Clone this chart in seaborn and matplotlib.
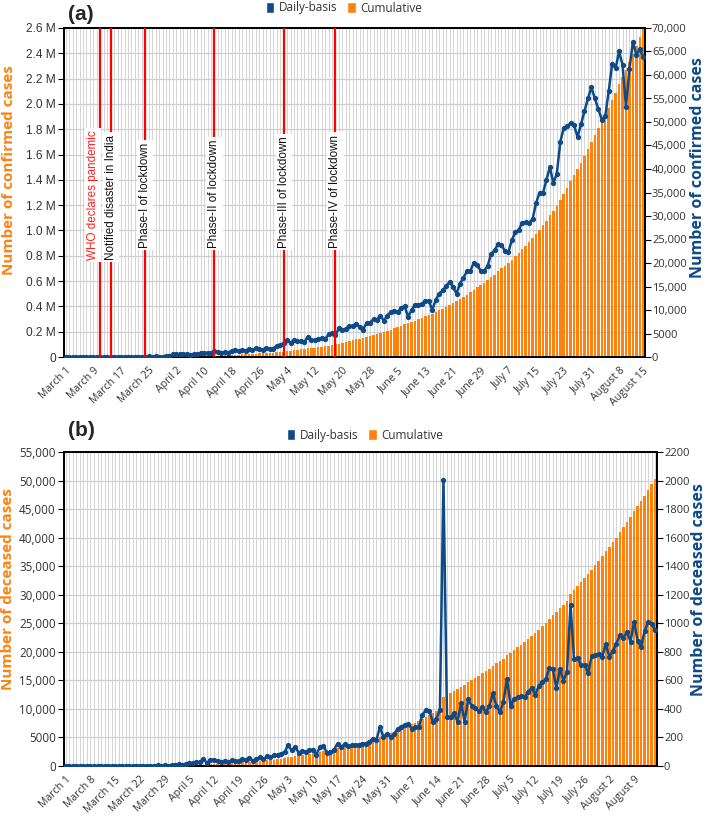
import numpy as np
import pandas as pd
import matplotlib
matplotlib.use("Agg")
import matplotlib.pyplot as plt
import seaborn as sns
from matplotlib.patches import Patch
from matplotlib.ticker import FuncFormatter

# ---------------- data ----------------
dates = pd.date_range("2020-03-01", "2020-08-15", freq="D")

daily_confirmed = [
    0, 2, 1, 22, 2, 1, 3, 5, 9, 15, 8, 10, 10, 12, 13, 12, 22, 14, 38, 50, 86, 66, 103, 37, 121, 70, 160, 100, 106, 227, 146,
    601, 545, 624, 579, 609, 484, 573, 565, 813, 871, 854, 758, 1243, 1031, 886, 1061, 922, 1371, 1580, 1239, 1537, 1292, 1667, 1408, 1835, 1607, 1568, 1902, 1705, 1801,
    2396, 2564, 2952, 3656, 2971, 3602, 3344, 3339, 3175, 4311, 3592, 3562, 3726, 3991, 3808, 4794, 5050, 4628, 6154, 5720, 6023, 6536, 6667, 7111, 6414, 5843, 7293, 7300, 8105, 7964, 8789,
    7720, 8820, 9630, 9890, 9470, 10440, 10860, 8540, 9980, 11160, 11140, 11310, 12000, 11900, 10000, 12200, 13500, 14200, 15100, 16000, 14900, 13500, 15600, 16900, 18200, 18300, 20100, 19600, 18300, 18300,
    19400, 21900, 22700, 24000, 23900, 22500, 22300, 24900, 26500, 27100, 28600, 28700, 28500, 29400, 32700, 35000, 34900, 37700, 40400, 37000, 39000, 45700, 48800, 49100, 49800, 49300, 46800, 49500, 52300, 55000, 57400,
    55000, 52800, 50500, 51200, 56500, 62400, 61400, 65000, 62200, 53200, 61200, 67100, 64300, 65500, 63800,
]

cumulative_confirmed = [
    3, 5, 6, 28, 30, 31, 34, 39, 48, 63, 71, 81, 91, 103, 116, 128, 150, 164, 202, 252, 338, 404, 507, 544, 665, 735, 895, 995, 1101, 1328, 1474,
    2075, 2620, 3244, 3823, 4432, 4916, 5489, 6054, 6867, 7738, 8592, 9350, 10593, 11624, 12510, 13571, 14493, 15864, 17444, 18683, 20220, 21512, 23179, 24587, 26422, 28029, 29597, 31499, 33204, 35005,
    37401, 39965, 42917, 46573, 49544, 53146, 56490, 59829, 63004, 67315, 70907, 74469, 78195, 82186, 85994, 90788, 95838, 100466, 106620, 112340, 118363, 124899, 131566, 138677, 145091, 150934, 158227, 165527, 173632, 181596, 190385,
    198105, 206925, 216555, 226445, 235915, 246355, 257215, 265755, 275735, 286895, 298035, 309345, 321345, 333245, 343245, 355445, 368945, 383145, 398245, 414245, 429145, 442645, 458245, 475145, 493345, 511645, 531745, 551345, 569645, 587945,
    607345, 629245, 651945, 675945, 699845, 722345, 744645, 769545, 796045, 823145, 851745, 880445, 908945, 938345, 971045, 1006045, 1040945, 1078645, 1119045, 1156045, 1195045, 1240745, 1289545, 1338645, 1388445, 1437745, 1484545, 1534045, 1586345, 1641345, 1698745,
    1753745, 1806545, 1857045, 1908245, 1964745, 2027145, 2088545, 2153545, 2215745, 2268945, 2330145, 2397245, 2461545, 2527045, 2590845,
]

daily_deceased = [
    0, 0, 0, 0, 0, 0, 0, 0, 0, 0, 0, 1, 0, 1, 0, 0, 1, 0, 1, 0, 1, 3, 2, 2, 1, 3, 5, 3, 4, 3, 4,
    5, 12, 10, 15, 23, 20, 30, 26, 51, 20, 44, 44, 35, 26, 38, 28, 40, 36, 36, 46, 45, 58, 36, 47, 63, 46, 68, 60, 75, 79,
    87, 98, 145, 110, 133, 93, 105, 98, 110, 115, 80, 133, 140, 93, 98, 115, 157, 133, 152, 138, 145, 145, 147, 157, 157, 169, 192, 180, 274, 204, 227,
    204, 222, 260, 273, 290, 295, 262, 270, 272, 357, 392, 388, 310, 328, 395, 2003, 342, 340, 370, 308, 442, 310, 468, 420, 405, 382, 412, 380, 417, 510,
    420, 379, 446, 613, 422, 470, 484, 490, 480, 520, 548, 500, 560, 586, 610, 686, 678, 543, 682, 595, 660, 1130, 748, 760, 706, 707, 652, 772, 777, 783, 765,
    856, 762, 808, 858, 915, 900, 937, 872, 1012, 877, 835, 948, 1008, 998, 950,
]

cumulative_deceased = [
    0, 0, 0, 0, 0, 0, 0, 0, 0, 0, 0, 1, 1, 2, 2, 2, 3, 3, 4, 4, 5, 8, 10, 12, 13, 16, 21, 24, 28, 31, 35,
    40, 52, 62, 77, 100, 120, 150, 176, 227, 247, 291, 335, 370, 396, 434, 462, 502, 538, 574, 620, 665, 723, 759, 806, 869, 915, 983, 1043, 1118, 1197,
    1284, 1382, 1527, 1637, 1770, 1863, 1968, 2066, 2176, 2291, 2371, 2504, 2644, 2737, 2835, 2950, 3107, 3240, 3392, 3530, 3675, 3820, 3967, 4124, 4281, 4450, 4642, 4822, 5096, 5300, 5527,
    5731, 5953, 6213, 6486, 6776, 7071, 7333, 7603, 7875, 8232, 8624, 9012, 9322, 9650, 10045, 12048, 12390, 12730, 13100, 13408, 13850, 14160, 14628, 15048, 15453, 15835, 16247, 16627, 17044, 17554,
    17974, 18353, 18799, 19412, 19834, 20304, 20788, 21278, 21758, 22278, 22826, 23326, 23886, 24472, 25082, 25768, 26446, 26989, 27671, 28266, 28926, 30056, 30804, 31564, 32270, 32977, 33629, 34401, 35178, 35961, 36726,
    37582, 38344, 39152, 40010, 40925, 41825, 42762, 43634, 44646, 45523, 46358, 47306, 48314, 49312, 50262,
]

event_dates = ["2020-03-11", "2020-03-14", "2020-03-24", "2020-04-13", "2020-05-03", "2020-05-18"]
event_labels = ["WHO declares pandemic", "Notified disaster in India", "Phase-I of lockdown",
                "Phase-II of lockdown", "Phase-III of lockdown", "Phase-IV of lockdown"]
event_text_colors = ["#ff2020", "#111111", "#111111", "#111111", "#111111", "#111111"]
event_label_y = [770000, 770000, 865000, 865000, 865000, 865000]
event_label_dx = [-5, 0, 0, 0, 0, 0]

legend_labels = ["Daily-basis", "Cumulative"]

# ---------------- style ----------------
sns.set_style("white")
plt.rcParams["font.family"] = ["Open Sans", "DejaVu Sans"]

ORANGE = "#ff820f"
BLUE = "#0e4a87"
TXT = "#333333"

fig = plt.figure(figsize=(7.08, 8.17), dpi=100)
W, H = 708.0, 817.0
axA = fig.add_axes([64 / W, 1 - 357 / H, (645 - 64) / W, (357 - 28) / H])
axB = fig.add_axes([64 / W, 1 - 766 / H, (657 - 64) / W, (766 - 452) / H])


def fmt_int(v, pos=None):
    v = int(round(v))
    return f"{v:,}" if v >= 10000 else f"{v}"


def fmt_mil(v, pos=None):
    return "0" if v == 0 else f"{v / 1e6:.1f} M"


def draw_panel(ax, cum, daily, cum_max, cum_step, d_max, d_step, label_idx,
               left_fmt, left_font, left_size):
    n = len(dates)
    df = pd.DataFrame({"idx": np.arange(n), "cum": cum, "daily": daily})
    sns.barplot(data=df, x="idx", y="cum", color=ORANGE, saturation=1, width=0.72,
                errorbar=None, linewidth=0, ax=ax, zorder=2)
    ax.set_xlim(-0.5, n - 0.5)
    ax.set_ylim(0, cum_max)
    ax.set_yticks(np.arange(0, cum_max + 1, cum_step))
    ax.yaxis.set_major_formatter(FuncFormatter(left_fmt))
    ax.set_axisbelow(True)
    ax.set_xticks(np.arange(n))
    labels = [""] * n
    for i in label_idx:
        d = dates[i]
        labels[i] = f"{d:%B} {d.day}"
    ax.set_xticklabels(labels, rotation=45, ha="right", rotation_mode="anchor",
                       fontsize=7.6, color=TXT)
    ax.grid(axis="x", color="#d6d6d6", lw=0.75)
    ax.grid(axis="y", color="#cfcfcf", lw=0.9)
    ax.tick_params(axis="x", length=4, width=0.8, color="black", pad=2)
    ax.tick_params(axis="y", length=4, width=0.8, color="black", pad=2,
                   labelsize=left_size, labelcolor=TXT)
    for t in ax.get_yticklabels():
        t.set_family(left_font)
    ax.set_xlabel("")
    ax.set_ylabel("")

    ax2 = ax.twinx()
    sns.lineplot(data=df, x="idx", y="daily", ax=ax2, color=BLUE, lw=1.8,
                 marker="o", markersize=3.8, markeredgewidth=0, zorder=3)
    ax2.set_xlim(-0.5, n - 0.5)
    ax2.set_ylim(0, d_max)
    ax2.set_yticks(np.arange(0, d_max + 1, d_step))
    ax2.yaxis.set_major_formatter(FuncFormatter(fmt_int))
    ax2.tick_params(axis="y", length=4, width=0.8, color="black", pad=1,
                    labelsize=8, labelcolor=TXT)
    ax2.set_ylabel("")
    ax2.set_xlabel("")
    for a in (ax, ax2):
        for s in a.spines.values():
            s.set_color("black")
            s.set_linewidth(1.3)
            s.set_visible(True)
    return ax2


nA = len(dates)
labA = list(range(0, nA, 8)) + [nA - 1]
axA2 = draw_panel(axA, cumulative_confirmed, daily_confirmed, 2.6e6, 0.2e6, 70000, 5000,
                  labA, fmt_mil, "Liberation Sans", 8.6)
labB = list(range(0, nA, 7))
axB2 = draw_panel(axB, cumulative_deceased, daily_deceased, 55000, 5000, 2200, 200,
                  labB, fmt_int, "Open Sans", 8.4)

# events on panel (a)
date_index = {d.strftime("%Y-%m-%d"): i for i, d in enumerate(dates)}
for ed, lab, col, yv, dx in zip(event_dates, event_labels, event_text_colors,
                                 event_label_y, event_label_dx):
    xi = date_index[ed]
    axA2.axvline(xi, color="#ff0000", lw=1.6, zorder=4)
    axA2.annotate(lab, xy=(xi, yv), xycoords=axA.transData, xytext=(dx, 0),
                  textcoords="offset points", rotation=90, ha="center", va="bottom",
                  fontsize=8.4, family="Liberation Sans", color=col, zorder=5,
                  bbox=dict(boxstyle="square,pad=0.18", fc="white", ec="none"))

# axis titles
fig.text(9 / W, 1 - 170 / H, "Number of confirmed cases", rotation=90, color=ORANGE,
         fontweight="bold", fontsize=11, ha="center", va="center")
fig.text(698 / W, 1 - 168 / H, "Number of confirmed cases", rotation=90, color=BLUE,
         fontweight="bold", fontsize=11.5, ha="center", va="center")
fig.text(8 / W, 1 - 589 / H, "Number of deceased cases", rotation=90, color=ORANGE,
         fontweight="bold", fontsize=11, ha="center", va="center")
fig.text(699 / W, 1 - 590 / H, "Number of deceased cases", rotation=90, color=BLUE,
         fontweight="bold", fontsize=11.5, ha="center", va="center")

# panel letters
fig.text(68 / W, 1 - 14 / H, "(a)", fontsize=15, fontweight="bold",
         family="Liberation Sans", ha="left", va="center")
fig.text(68 / W, 1 - 431 / H, "(b)", fontsize=15, fontweight="bold",
         family="Liberation Sans", ha="left", va="center")

# legends
for cx, cy in [(344 / W, 1 - 8 / H), (365 / W, 1 - 435 / H)]:
    handles = [Patch(facecolor=BLUE, label=legend_labels[0]),
               Patch(facecolor=ORANGE, label=legend_labels[1])]
    fig.legend(handles=handles, loc="center", bbox_to_anchor=(cx, cy), ncol=2,
               frameon=False, fontsize=8.5, handlelength=0.75, handleheight=1.1,
               handletextpad=0.4, columnspacing=0.8, labelcolor=TXT,
               borderpad=0, borderaxespad=0)

fig.savefig("out.png", dpi=100)
